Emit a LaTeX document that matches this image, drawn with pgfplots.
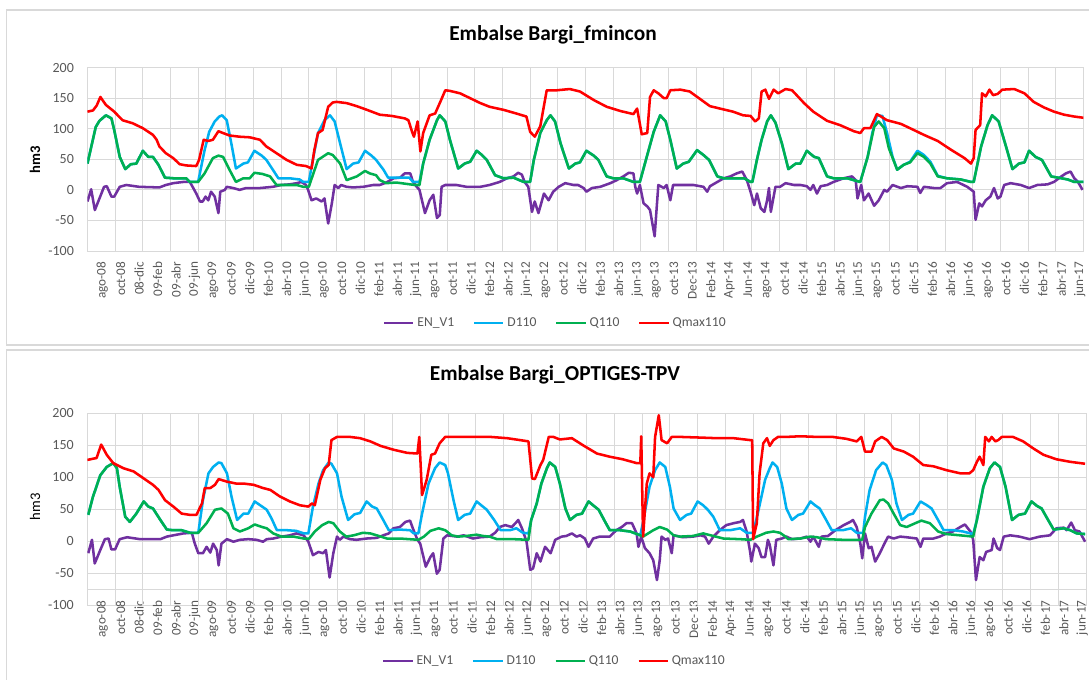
\documentclass[border=0pt]{standalone}
\usepackage{fontspec}
\setmainfont{Carlito}
\usepackage{pgfplots}
\pgfplotsset{compat=1.18}
\definecolor{cEN}{HTML}{7030A0}
\definecolor{cD}{HTML}{00B0F0}
\definecolor{cQ}{HTML}{00B050}
\definecolor{cM}{HTML}{FF0000}
\definecolor{gridc}{HTML}{D9D9D9}
\definecolor{txt}{HTML}{595959}
\pgfplotsset{
 panel/.style={
  scale only axis, xmin=0, xmax=108, ymin=-100, ymax=200,
  ytick={-100,-50,0,50,100,150,200}, yticklabels={-100,-50,0,50,100,150,200},
  xtick={1.6,3.6,5.6,7.6,9.6,11.6,13.6,15.6,17.6,19.6,21.6,23.6,25.6,27.6,29.6,31.6,33.6,35.6,37.6,39.6,41.6,43.6,45.6,47.6,49.6,51.6,53.6,55.6,57.6,59.6,61.6,63.6,65.6,67.6,69.6,71.6,73.6,75.6,77.6,79.6,81.6,83.6,85.6,87.6,89.6,91.6,93.6,95.6,97.6,99.6,101.6,103.6,105.6,107.6},
  xticklabels={ago-08,oct-08,08-dic,09-feb,09-abr,09-jun,ago-09,oct-09,dic-09,feb-10,abr-10,jun-10,ago-10,oct-10,dic-10,feb-11,abr-11,jun-11,ago-11,oct-11,dic-11,feb-12,abr-12,jun-12,ago-12,oct-12,dic-12,feb-13,abr-13,jun-13,ago-13,oct-13,Dec-13,Feb-14,Apr-14,Jun-14,ago-14,oct-14,dic-14,feb-15,abr-15,jun-15,ago-15,oct-15,dic-15,feb-16,abr-16,jun-16,ago-16,oct-16,dic-16,feb-17,abr-17,jun-17},
  extra x ticks={3,6,...,105}, extra x tick labels={},
  extra x tick style={grid=major, major tick length=0pt},
  ymajorgrids, grid style={gridc, line width=0.6pt},
  axis line style={gridc, line width=0.6pt},
  major tick length=0pt,
  tick label style={font=\fontsize{9.9}{11}\selectfont, text=txt},
  x tick label style={rotate=90, anchor=east, inner sep=0pt},
  xticklabel shift=8pt,
  y tick label style={inner sep=0pt, font=\fontsize{10.5}{12}\selectfont}, yticklabel shift=10pt,
  every axis plot/.append style={line width=1.9pt, line join=round},
  legend columns=4,
  legend style={draw=none, fill=none, font=\fontsize{10.2}{12}\selectfont, text=txt, anchor=center,
    /tikz/every even column/.append style={column sep=12pt}},
  legend image code/.code={\draw[#1] (0pt,0pt) -- (22pt,0pt);},
 }
}
\begin{document}
\begin{tikzpicture}
\useasboundingbox (0,0) rectangle (816.75pt,510pt);
\fill[white] (0,0) rectangle (816.75pt,510pt);
\draw[gridc, line width=0.8pt] (5pt,251.25pt) rectangle (830pt,502.5pt);
\draw[gridc, line width=0.8pt] (5pt,-10pt) rectangle (830pt,247.5pt);

% ---------------- TOP ----------------
\begin{axis}[panel, at={(65.6pt,321.75pt)}, anchor=south west, width=747pt, height=137.5pt,
  legend style={at={(0.47,-0.393)}}]
\addplot[cEN] coordinates {(0,-19)(0.4,1)(0.8,-33)(1.3,-14)(1.8,5)(2.1,6)(2.6,-11)(2.9,-11)(3.5,5)(4.2,8)(5.6,5)(7.8,4)(8.5,8)(9.3,11)(10.4,13)(11.1,13)(11.4,5)(11.8,-6)(12.2,-19)(12.5,-19)(12.8,-11)(13.1,-17)(13.4,-3)(13.8,-11)(14.2,-38)(14.4,-3)(14.9,0)(15.1,5)(15.8,3)(16.5,0)(17.2,3)(17.9,3)(18.7,3)(19.4,4)(20.1,5)(21,8)(21.9,9)(22.7,11)(23.2,13)(23.7,8)(23.9,1)(24.3,-17)(24.8,-14)(25.4,-19)(25.7,-14)(26.1,-55)(26.5,-22)(26.8,8)(27.2,3)(27.5,8)(28.1,5)(28.8,4)(29.9,5)(31,8)(31.7,8)(32.4,12)(33.2,19)(33.9,20)(34.4,27)(35,27)(35.3,13)(35.7,5)(36,0)(36.6,-38)(37.1,-17)(37.5,-8)(37.9,-46)(38.2,-41)(38.4,5)(38.8,8)(40,8)(41.1,5)(42.6,5)(43.6,8)(44.7,13)(45.5,19)(46.2,22)(46.7,28)(47.1,25)(47.4,13)(47.8,5)(48.2,-36)(48.5,-19)(48.9,-38)(49.5,-6)(50,-17)(50.5,-3)(51.1,5)(51.8,11)(52.7,8)(53.2,8)(53.8,3)(54.1,-3)(54.7,3)(55.6,5)(56.7,11)(57.4,16)(58.1,22)(58.7,28)(59.2,27)(59.4,5)(59.6,-6)(59.9,8)(60.3,-22)(60.7,-27)(61,-33)(61.5,-76)(61.9,8)(62.5,3)(62.8,8)(63.2,-17)(63.5,8)(64.3,8)(65.7,8)(66.8,5)(67.2,-3)(67.5,6)(68.3,13)(69,19)(69.7,22)(70.4,27)(71,30)(71.5,16)(71.9,-3)(72.3,-25)(72.6,-6)(73,-30)(73.4,-36)(73.7,-17)(73.9,3)(74.1,-36)(74.6,5)(75.1,5)(75.7,11)(76.6,8)(77.3,8)(78,6)(78.4,0)(78.7,8)(79.1,-6)(79.5,6)(80.2,8)(80.9,13)(82,19)(82.9,22)(83.3,16)(83.5,-14)(83.9,8)(84.2,-17)(84.7,-6)(85.3,-26)(85.8,-17)(86.4,0)(86.7,-3)(87.3,8)(88.2,3)(88.9,6)(90,5)(90.3,-5)(90.7,5)(91.8,3)(92.5,3)(93.2,11)(94.3,13)(95.4,5)(96.1,-3)(96.3,-49)(96.7,-22)(97,-27)(97.4,-17)(97.9,-11)(98.3,3)(98.7,-14)(99,-11)(99.4,8)(100.1,11)(101.2,8)(102.1,3)(103,8)(104.1,9)(104.8,13)(105.6,22)(106.1,27)(106.6,30)(107,19)(107.4,13)(107.9,0)};
\addlegendentry{EN\_V1}
\addplot[cD] coordinates {(0,43)(0.9,103)(1.3,113)(2.0,122)(2.6,117)(2.9,98)(3.5,54)(4.1,34)(4.7,42)(5.3,43)(6.0,64)(6.6,54)(7.1,54)(7.7,41)(8.4,20)(9.3,19)(10.7,19)(11.1,13)(12,13)(12.7,65)(13.2,95)(13.8,112)(14.3,120)(14.6,122)(15.1,114)(15.6,76)(16.1,35)(16.9,43)(17.4,45)(18.1,64)(18.9,56)(19.4,49)(20.1,33)(20.7,19)(21.9,19)(23,17)(23.4,13)(24,13)(24.5,54)(25,93)(25.7,114)(26.3,122)(26.8,112)(27.4,76)(28.1,34)(28.8,43)(29.4,45)(30.1,64)(30.8,56)(31.3,49)(32.1,33)(32.6,20)(33.9,20)(34.9,20)(35.3,13)(36,13)(36.4,43)(37.1,82)(37.9,114)(38.2,122)(38.8,112)(39.3,82)(40.2,35)(40.9,43)(41.5,46)(42.2,64)(42.7,58)(43.3,49)(44.2,24)(45.1,19)(46.2,20)(47.3,13)(48,13)(48.4,49)(49.1,93)(49.8,114)(50.2,122)(50.7,112)(51.3,76)(52.2,35)(52.9,43)(53.4,45)(54.1,64)(54.9,56)(55.4,49)(56.3,22)(57,19)(58.1,19)(59.2,13)(59.9,13)(60.7,57)(61.4,95)(62.1,122)(62.7,112)(63.2,82)(63.9,35)(64.6,43)(65.2,46)(66.1,65)(66.8,57)(67.4,49)(68.3,22)(69,19)(70.1,19)(71.2,19)(71.9,13)(72.1,13)(72.6,50)(73.1,82)(73.7,112)(74.1,122)(74.6,110)(75.3,76)(76,34)(76.8,43)(77.3,43)(78,64)(78.8,54)(79.3,52)(80.2,22)(80.9,19)(82.4,19)(83.3,15)(83.8,13)(84.6,54)(85.1,93)(85.6,122)(86.2,121)(86.7,93)(87.3,54)(87.8,33)(88.5,41)(89.2,46)(90,64)(90.7,57)(91.4,46)(92.2,23)(93.2,19)(94.7,17)(95.8,13)(96.1,13)(96.9,71)(97.6,106)(98.1,122)(98.8,112)(99.6,71)(100.3,34)(101,43)(101.6,45)(102.1,64)(102.8,54)(103.5,49)(104.5,22)(105.6,19)(106.3,17)(107,13)(108,13)};
\addlegendentry{D110}
\addplot[cQ] coordinates {(0,43)(0.9,103)(1.3,113)(2.0,122)(2.6,117)(2.9,98)(3.5,54)(4.1,34)(4.7,42)(5.3,43)(6.0,64)(6.6,54)(7.1,54)(7.7,41)(8.4,20)(9.3,19)(10.7,19)(11.1,13)(12,13)(12.7,27)(13.6,52)(14.2,56)(14.7,54)(15.4,33)(16.1,13)(16.9,19)(17.6,19)(18.1,28)(19,26)(19.8,22)(20.5,8)(21.6,8)(22.7,8)(23.4,5)(24,5)(24.5,27)(25,49)(26.1,60)(26.6,57)(27.4,43)(28.1,16)(29.2,22)(30.1,31)(30.6,27)(31.3,24)(31.7,16)(32.4,11)(33.5,12)(35.5,8)(36,8)(36.4,43)(37.1,82)(37.9,114)(38.2,122)(38.8,112)(39.3,82)(40.2,35)(40.9,43)(41.5,46)(42.2,64)(42.7,58)(43.3,49)(44.2,24)(45.1,19)(46.2,20)(47.3,13)(48,13)(48.4,49)(49.1,93)(49.8,114)(50.2,122)(50.7,112)(51.3,76)(52.2,35)(52.9,43)(53.4,45)(54.1,64)(54.9,56)(55.4,49)(56.3,22)(57,19)(58.1,19)(59.2,13)(59.9,13)(60.7,57)(61.4,95)(62.1,122)(62.7,112)(63.2,82)(63.9,35)(64.6,43)(65.2,46)(66.1,65)(66.8,57)(67.4,49)(68.3,22)(69,19)(70.1,19)(71.2,19)(71.9,13)(72.1,13)(72.6,50)(73.1,82)(73.7,112)(74.1,122)(74.6,110)(75.3,76)(76,34)(76.8,43)(77.3,43)(78,64)(78.8,54)(79.3,52)(80.2,22)(80.9,19)(82.4,19)(83.3,15)(83.8,13)(84.6,54)(85.3,103)(85.8,112)(86.4,101)(86.9,68)(87.8,33)(88.5,41)(89.2,45)(90,60)(90.7,54)(91.4,43)(92.2,22)(93.2,19)(94.7,17)(95.8,13)(96.1,13)(96.9,71)(97.6,106)(98.1,122)(98.8,112)(99.6,71)(100.3,34)(101,43)(101.6,45)(102.1,64)(102.8,54)(103.5,49)(104.5,22)(105.6,19)(106.3,17)(107,13)(108,13)};
\addlegendentry{Q110}
\addplot[cM] coordinates {(0,128)(0.6,130)(1.0,138)(1.4,152)(2.0,139)(2.9,128)(3.8,114)(4.9,109)(6.0,101)(7.1,90)(7.5,82)(7.8,71)(8.5,60)(9.3,52)(10,42)(10.7,40)(11.8,39)(12.1,49)(12.6,82)(13.1,80)(13.6,82)(14.2,96)(14.7,93)(15.4,89)(16.5,87)(17.6,86)(18.7,82)(19.4,71)(20.5,60)(21.6,49)(22.7,41)(23.7,39)(24.3,35)(24.6,65)(25,93)(25.5,98)(26.1,136)(26.6,143)(27,144)(28.1,142)(29.2,137)(30.3,131)(31.7,123)(33,121)(34.4,117)(34.8,114)(35.2,95)(35.4,87)(35.8,112)(36.1,63)(36.4,93)(37.1,122)(37.7,125)(38.2,142)(38.8,163)(39.3,162)(40.4,158)(41.5,150)(42.6,142)(43.6,136)(45.1,131)(46.5,125)(47.6,120)(48,95)(48.5,87)(49.1,104)(49.8,163)(50.9,163)(52.3,165)(53.4,161)(54.9,147)(56.3,136)(57.8,129)(59.2,124)(59.6,133)(60.1,91)(60.7,93)(61,152)(61.4,163)(61.9,158)(62.5,150)(62.8,150)(63.2,163)(64.3,164)(65.3,161)(66.4,149)(67.5,137)(68.6,133)(70,128)(71.1,122)(71.9,121)(72.4,112)(72.8,117)(73.1,161)(73.5,164)(73.9,149)(74.4,164)(74.9,158)(75.7,165)(76.4,163)(76.9,155)(77.7,142)(78.7,128)(80.2,113)(81.6,106)(83.1,96)(83.8,93)(84.2,101)(84.9,101)(85.6,124)(86.7,114)(88.2,108)(89.6,98)(90.7,90)(92.2,80)(93.6,66)(95.1,52)(95.8,43)(96.1,52)(96.3,98)(96.8,106)(97.0,158)(97.4,153)(97.8,164)(98.2,155)(98.7,157)(99.2,164)(100.5,165)(101.6,158)(102.6,144)(103.7,135)(104.8,128)(105.9,123)(107,120)(108,118)};
\addlegendentry{Qmax110}
\end{axis}

% ---------------- BOTTOM ----------------
\begin{axis}[panel, at={(65.5pt,56.25pt)}, anchor=south west, width=749pt, height=143.8pt,
  xticklabel shift=-3.5pt,
  extra y ticks={-75}, extra y tick labels={}, extra y tick style={grid=major},
  legend style={at={(0.468,-0.291)}}]
\addplot[cEN] coordinates {(0.1,-19)(0.5,2)(0.8,-35)(1.4,-14)(1.9,3)(2.3,4)(2.6,-13)(3,-13)(3.5,3)(4.3,6)(5.7,3)(7.9,3)(8.6,7)(9.3,9)(10.4,12)(11.3,13)(11.6,-3)(12,-19)(12.5,-19)(12.9,-9)(13.3,-18)(13.6,-4)(14,-14)(14.2,-38)(14.5,-4)(15.1,3)(15.8,-1)(16.5,2)(17.4,3)(18.3,2)(19,-1)(19.4,3)(20.1,4)(21,7)(21.9,9)(22.6,12)(23.4,9)(23.9,-1)(24.4,-22)(25,-17)(25.5,-19)(25.8,-14)(26.2,-57)(26.6,-19)(27,7)(27.3,2)(27.7,7)(28.4,3)(29.1,2)(30.2,4)(31.3,5)(32,9)(32.6,12)(33.1,20)(33.8,22)(34.4,30)(34.9,32)(35.2,20)(35.7,2)(36,-4)(36.6,-40)(37.1,-25)(37.4,-19)(37.8,-51)(38.1,-45)(38.5,4)(38.9,9)(40,7)(40.7,9)(41.7,4)(42.5,6)(43.5,7)(44.1,13)(44.6,22)(45.2,25)(45.9,22)(46.3,28)(46.6,33)(47,20)(47.5,-1)(47.9,-45)(48.2,-43)(48.6,-19)(49,-32)(49.5,-9)(50.1,-19)(50.6,2)(51.3,7)(51.8,8)(52.4,12)(52.9,7)(53.3,9)(53.8,4)(54.2,-9)(54.7,4)(55.4,7)(56.5,7)(57.2,17)(57.8,22)(58.3,28)(58.9,28)(59.4,12)(59.6,-9)(59.9,7)(60.3,-11)(60.8,-19)(61.2,-30)(61.6,-61)(61.9,-30)(62.1,7)(62.5,2)(62.8,4)(63.2,-19)(63.4,9)(64.4,6)(65.5,7)(66.3,9)(66.8,7)(67.2,-4)(67.7,7)(68.4,17)(69.1,25)(69.9,28)(70.6,30)(70.9,33)(71.3,15)(71.7,-19)(71.8,-32)(72.2,-4)(72.6,-11)(72.9,-25)(73.3,-25)(73.6,2)(73.8,-6)(74.2,-38)(74.5,2)(75.1,4)(75.6,7)(76.2,3)(77.1,4)(77.8,7)(78.2,-1)(78.5,7)(79.1,-9)(79.4,7)(80.1,8)(80.9,17)(81.8,25)(82.5,30)(82.8,33)(83.2,22)(83.6,-4)(83.8,-27)(84.1,12)(84.5,-11)(84.8,-9)(85.2,-32)(85.7,-19)(86.3,-1)(86.6,7)(87.2,4)(87.9,7)(88.6,6)(89.7,4)(90.1,-9)(90.4,4)(91.5,4)(92.2,7)(92.9,12)(93.6,15)(94.4,22)(94.9,26)(95.5,15)(95.8,2)(96.1,-61)(96.5,-25)(96.9,-30)(97.2,-17)(97.8,-14)(98,4)(98.4,-11)(98.7,-14)(99.1,7)(99.8,9)(100.8,7)(101.9,3)(103,7)(104.1,9)(104.8,20)(105.6,21)(105.9,17)(106.4,29)(106.8,17)(107.3,15)(107.9,-1)};
\addlegendentry{EN\_V1}
\addplot[cD] coordinates {(0.1,41)(0.6,69)(1.4,103)(2.1,116)(2.8,122)(3.2,114)(3.5,85)(4.1,38)(4.6,30)(5.3,43)(6.1,62)(6.6,54)(7.1,51)(7.9,33)(8.6,18)(9.3,17)(10.2,17)(11.1,13)(12,13)(12.5,64)(13.1,106)(13.6,116)(14.2,123)(14.5,122)(15.1,106)(15.6,69)(16.2,33)(16.9,43)(17.4,43)(18.1,62)(18.9,54)(19.4,49)(19.9,36)(20.5,17)(21.6,17)(22.6,16)(23.4,12)(23.9,12)(24.4,54)(25,90)(25.5,111)(26.1,123)(26.4,121)(27,106)(27.5,69)(28.2,33)(28.9,42)(29.5,44)(30.2,62)(30.8,54)(31.3,51)(32,33)(32.6,17)(33.8,18)(34.9,17)(35.3,12)(35.8,12)(36.2,43)(36.9,90)(37.6,114)(38.1,123)(38.7,119)(39,106)(39.6,64)(40.1,33)(40.8,41)(41.4,43)(42.1,62)(42.6,56)(43.2,49)(44,33)(44.7,17)(45.7,17)(46.4,20)(47.1,13)(47.7,12)(48,33)(48.6,59)(49.1,90)(49.7,114)(50,123)(50.6,116)(51.1,90)(51.7,51)(52.2,33)(52.9,41)(53.5,43)(54.2,62)(54.7,56)(55.3,49)(56,30)(56.5,17)(57.6,17)(58.7,15)(59.8,9)(60.1,30)(60.8,85)(61.4,111)(61.9,123)(62.5,116)(63,85)(63.4,51)(64.1,33)(64.8,41)(65.3,43)(66,62)(66.6,56)(67.1,49)(67.7,38)(68.4,17)(69.5,17)(70.6,20)(71.3,13)(72,13)(72.5,43)(73.3,96)(73.8,114)(74.1,123)(74.6,116)(75.1,90)(75.6,51)(76.2,33)(76.9,41)(77.4,43)(78.2,62)(78.7,56)(79.2,51)(79.9,33)(80.5,17)(81.7,17)(82.6,20)(83.2,13)(83.9,13)(84.1,38)(84.6,80)(85.3,111)(86,123)(86.4,119)(87,96)(87.5,59)(88.1,33)(88.8,41)(89.3,43)(90.1,62)(90.8,56)(91.3,51)(92,33)(92.6,17)(93.7,17)(94.7,15)(95.5,12)(95.8,11)(96.2,33)(96.9,85)(97.6,114)(98.1,123)(98.7,116)(99.3,85)(100,33)(100.7,41)(101.4,43)(102.1,62)(102.7,55)(103.2,51)(103.9,33)(104.5,18)(105.6,20)(106.3,17)(107,12)(107.9,11)};
\addlegendentry{D110}
\addplot[cQ] coordinates {(0.1,41)(0.6,69)(1.4,103)(2.1,116)(2.8,122)(3.2,114)(3.5,85)(4.1,38)(4.6,30)(5.3,43)(6.1,62)(6.6,54)(7.1,51)(7.9,33)(8.6,18)(9.3,17)(10.2,17)(11.1,13)(12,13)(12.9,28)(13.8,49)(14.5,51)(15.2,43)(15.8,20)(16.5,15)(17.4,20)(18.1,26)(18.9,22)(19.4,20)(20.1,12)(21,7)(22.3,7)(23.4,4)(24,4)(24.6,15)(25.4,25)(26.1,30)(26.6,28)(27.3,15)(28,7)(28.8,9)(29.8,13)(30.6,12)(31.3,9)(32.4,4)(33.8,4)(35.8,2)(36.4,7)(37.1,16)(38,20)(38.7,17)(39.4,9)(40.1,7)(41,8)(42.1,10)(42.8,8)(43.5,7)(44.3,3)(46.1,3)(47.7,2)(48,33)(48.6,59)(49.1,90)(49.7,114)(50,123)(50.6,116)(51.1,90)(51.7,51)(52.2,33)(52.9,41)(53.5,43)(54.2,62)(54.7,56)(55.3,49)(56,30)(56.5,17)(57.6,17)(58.7,15)(59.8,9)(60.1,7)(61.2,17)(61.9,22)(62.7,18)(63.4,9)(64.1,7)(65.5,8)(66.6,12)(67.7,8)(68.8,4)(70.6,3)(71.7,2)(72.4,7)(73.4,13)(74.2,15)(74.9,13)(75.5,7)(75.8,3)(77.1,4)(78.2,7)(78.9,6)(79.9,3)(81.7,2)(83.8,2)(84.1,22)(84.8,43)(85.7,64)(86.1,65)(86.6,59)(87.2,43)(87.9,25)(88.6,22)(89.7,29)(90.2,32)(91.1,28)(92,15)(92.9,11)(94.4,9)(95.8,7)(96.2,33)(96.9,85)(97.6,114)(98.1,123)(98.7,116)(99.3,85)(100,33)(100.7,41)(101.4,43)(102.1,62)(102.7,55)(103.2,51)(103.9,33)(104.5,18)(105.6,20)(106.3,17)(107,12)(107.9,11)};
\addlegendentry{Q110}
\addplot[cM] coordinates {(0,127)(1,130)(1.5,151)(2.1,135)(2.8,122)(3.9,114)(5,109)(6.1,98)(7.1,88)(7.7,80)(8.4,64)(9.3,54)(10.2,43)(11.1,41)(11.8,41)(12.4,59)(12.7,83)(13.3,83)(13.8,88)(14.2,97)(15.1,93)(16.1,90)(16.9,90)(18,88)(19,83)(19.8,80)(20.8,70)(21.9,62)(23,56)(23.9,54)(24.3,59)(24.6,56)(25.2,96)(25.7,114)(26.1,119)(26.4,158)(27,163)(28.4,163)(29.5,161)(30.6,156)(31.7,149)(33.1,143)(34.6,138)(35.7,137)(35.9,163)(36.2,72)(36.7,96)(37.2,135)(37.6,137)(38.1,153)(38.7,163)(39.6,163)(41.4,163)(43.6,163)(45.4,161)(46.8,158)(47.7,156)(48.1,98)(48.4,97)(49,119)(49.3,127)(49.9,163)(50.4,163)(51.1,159)(52.4,161)(53.6,150)(55.1,137)(56.5,132)(57.9,128)(59.4,122)(59.8,122)(59.9,164)(60.1,7)(60.5,90)(60.8,106)(61.2,100)(61.4,163)(61.8,197)(62.1,158)(62.7,153)(63.2,163)(64.1,163)(66.2,162)(68.1,161)(69.9,161)(71.7,158)(71.9,158)(72,3)(72.4,28)(72.7,106)(73.1,153)(73.5,161)(73.8,149)(74.2,158)(74.7,163)(75.6,163)(77.1,164)(78.9,163)(80.6,163)(82.1,160)(83.2,156)(83.7,163)(84.1,140)(84.8,140)(85.2,156)(85.9,163)(86.5,158)(87.2,145)(88.3,140)(89.3,132)(90.4,119)(91.5,117)(92.9,111)(94.4,106)(95.4,106)(95.8,111)(96.2,124)(96.5,132)(96.9,119)(97.1,163)(97.5,156)(97.8,163)(98.2,156)(98.5,158)(98.9,163)(100.1,163)(101.2,156)(102.3,145)(103.4,135)(104.8,128)(106.3,124)(107.9,121)};
\addlegendentry{Qmax110}
\end{axis}

\node[font=\fontsize{16}{19}\selectfont\bfseries] at (414.75pt,483.75pt) {Embalse Bargi\_fmincon};
\node[font=\fontsize{16}{19}\selectfont\bfseries] at (416.25pt,228.75pt) {Embalse Bargi\_OPTIGES-TPV};
\node[rotate=90, font=\fontsize{11}{13}\selectfont\bfseries] at (26.25pt,390pt) {hm3};
\node[rotate=90, font=\fontsize{11}{13}\selectfont, text=black] at (26.25pt,129.75pt) {hm3};
\end{tikzpicture}
\end{document}
